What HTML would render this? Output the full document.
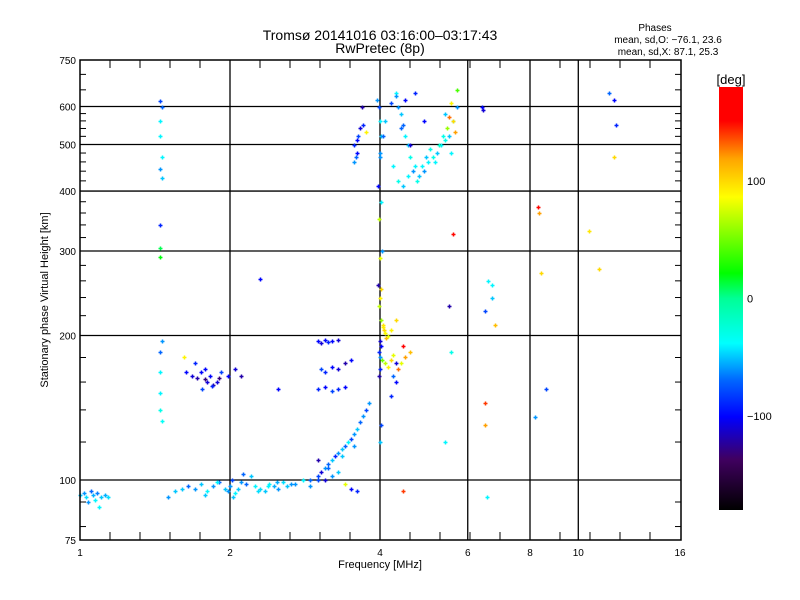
<!DOCTYPE html>
<html><head><meta charset="utf-8"><style>
body{margin:0;background:#fff}
svg{display:block;font-family:"Liberation Sans",sans-serif}
</style></head><body>
<svg id="chart" width="800" height="600" xmlns="http://www.w3.org/2000/svg">
<defs>
<linearGradient id="cbar" x1="0" y1="1" x2="0" y2="0">
<stop offset="0" stop-color="#000000"/><stop offset="0.12" stop-color="#400060"/><stop offset="0.22" stop-color="#0000ff"/>
<stop offset="0.305" stop-color="#0064ff"/><stop offset="0.394" stop-color="#00ffff"/><stop offset="0.5" stop-color="#00ff96"/>
<stop offset="0.56" stop-color="#00ff00"/><stop offset="0.74" stop-color="#ffff00"/><stop offset="0.83" stop-color="#ffa500"/>
<stop offset="0.92" stop-color="#ff0000"/><stop offset="1" stop-color="#ff0000"/>
</linearGradient>
</defs>
<text x="380" y="40" font-size="14" text-anchor="middle">Tromsø 20141016 03:16:00–03:17:43</text>
<text x="380" y="53" font-size="14" text-anchor="middle">RwPretec (8p)</text>
<g font-size="10" text-anchor="middle">
<text x="655" y="31">Phases</text>
<text x="668" y="43">mean, sd,O: −76.1, 23.6</text>
<text x="668" y="55">mean, sd,X:  87.1, 25.3</text>
</g>
<g id="grid"></g>
<g id="ticks"></g>
<g id="marks"></g>
<rect x="80" y="60" width="601" height="480" fill="none" stroke="#000" stroke-width="1.5"/>
<text x="380" y="568" font-size="11" text-anchor="middle">Frequency [MHz]</text>
<text x="48" y="300" font-size="11" text-anchor="middle" transform="rotate(-90 48 300)">Stationary phase Virtual Height [km]</text>
<rect x="719" y="87" width="24" height="423" fill="url(#cbar)"/>
<text x="731" y="84" font-size="13" text-anchor="middle">[deg]</text>
<g id="cticks" font-size="11"></g>
</svg>
<script>
const xTicks=[1,2,4,6,8,10,16];
const yTicks=[75,100,200,300,400,500,600,750];
const yGrid=[100,200,300,400,500,600];
const xGrid=[2,4,6,8,10];
const cTicks=[100,0,-100];
// echo data: frequency (MHz), virtual height (km), phase (deg)
const freq=[
1.0,1.02,1.03,1.05,1.06,1.07,1.08,1.1,1.12,1.14,1.04,1.09,
1.45,1.46,1.45,1.45,1.46,1.45,1.46,1.45,1.45,1.45,1.46,1.45,1.45,1.45,1.45,1.46,
1.63,1.68,1.72,1.75,1.78,1.8,1.82,1.85,1.88,1.9,1.7,1.78,1.92,1.98,2.05,2.1,1.76,1.84,1.62,
1.5,1.55,1.6,1.65,1.7,1.75,1.8,1.85,1.9,1.95,2.0,2.02,2.05,2.08,2.1,2.15,2.2,2.25,2.3,2.35,2.4,2.45,2.5,2.55,2.6,2.7,2.8,2.9,3.0,1.78,1.88,1.98,2.03,2.12,2.28,2.38,2.48,2.65,
3.0,3.05,3.1,3.15,3.2,3.3,3.05,3.1,3.2,3.3,3.4,3.5,3.0,3.1,3.2,3.3,3.4,2.3,2.5,
2.9,3.0,3.05,3.1,3.15,3.2,3.25,3.3,3.35,3.4,3.45,3.5,3.55,3.6,3.65,3.7,3.75,3.8,3.1,3.2,3.3,3.4,3.5,3.6,3.0,3.15,3.35,3.55,
3.55,3.6,3.62,3.65,3.58,3.7,3.75,3.6,3.55,3.68,
3.95,3.98,4.0,4.02,4.0,3.97,4.01,3.99,4.03,4.0,3.96,4.02,4.0,3.98,4.01,4.05,4.08,4.1,4.12,4.06,4.15,4.0,4.02,3.98,4.0,4.04,4.1,4.15,4.2,4.25,4.3,4.0,3.98,4.02,4.0,
4.2,4.35,4.45,4.3,4.25,4.5,4.4,4.3,4.2,4.6,4.45,
4.0,4.05,4.1,4.2,4.3,4.35,4.4,4.45,4.5,4.55,4.6,4.7,4.8,4.9,5.0,5.1,5.2,5.3,5.4,5.5,5.6,5.7,4.25,4.35,4.45,4.55,4.65,4.75,4.85,4.95,5.05,5.15,5.25,5.35,5.45,5.55,5.65,4.3,4.5,4.7,4.4,4.6,5.5,5.6,5.55,5.7,5.4,4.9,
6.4,6.45,6.6,6.7,6.8,6.5,6.5,6.55,8.3,8.35,8.4,8.2,8.6,10.5,11.0,11.5,11.8,11.9,11.8,5.5,6.5,6.7,5.6,5.55,5.4
];
const height=[
93,94,92,95,93,91,94,92,93,92,90,88,
615,600,560,520,470,445,425,340,305,292,195,185,168,152,140,133,
168,165,163,168,162,160,165,158,160,163,175,170,168,165,170,165,155,157,180,
92,95,96,97,96,98,95,97,99,96,97,100,94,96,99,98,102,97,96,95,98,97,96,99,97,98,100,97,100,93,99,95,92,103,95,97,99,98,
195,193,196,194,195,196,170,168,172,170,175,178,155,156,153,155,156,262,155,
100,102,104,106,108,110,112,114,116,118,120,122,125,128,132,136,140,145,100,102,104,98,96,95,110,106,112,118,
500,480,520,540,470,550,530,510,460,600,
620,600,560,520,470,410,380,350,300,290,255,250,240,230,215,208,205,202,198,210,200,195,190,185,180,178,175,172,178,182,175,170,165,130,120,
205,170,190,215,165,180,175,160,150,185,95,
480,520,560,610,640,600,580,550,520,500,470,450,430,440,460,470,480,500,510,520,560,600,450,420,410,430,440,420,450,470,490,460,500,520,540,480,530,630,620,640,540,500,570,560,610,650,580,560,
600,590,260,240,210,145,130,92,370,360,270,135,155,330,275,640,620,550,470,230,225,255,325,185,120
];
const phase=[
-50,-60,-45,-70,-55,-40,-65,-50,-55,-45,-60,-40,
-80,-70,-40,-40,-40,-60,-50,-90,10,20,-60,-70,-40,-40,-30,-35,
-100,-110,-120,-100,-130,-110,-100,-120,-110,-130,-90,-100,-80,-100,-110,-120,-80,-90,90,
-60,-50,-50,-70,-60,-50,-40,-60,-70,-50,-60,-80,-40,-50,-60,-70,-50,-40,-45,-50,-40,-55,-60,-45,-50,-60,-40,-60,-80,-50,-40,-60,-50,-70,-45,-40,-55,-60,
-100,-110,-100,-90,-100,-110,-80,-90,-100,-110,-120,-100,-90,-100,-80,-90,-100,-100,-100,
-70,-80,-110,-60,-70,-50,-90,-60,-50,-70,-40,-80,-60,-50,-70,-60,-80,-60,-110,-60,-50,80,-100,-90,-120,-70,-50,-60,
-90,-100,-80,-110,-70,-90,90,-100,-60,-120,
-60,-80,-40,-50,-60,-100,-40,70,-60,80,-120,100,90,70,60,90,100,85,110,95,80,-110,-100,-90,-60,50,70,90,100,80,-110,-90,-120,-80,-50,
90,130,160,100,-70,120,80,-100,-90,110,140,
-60,-70,-50,-80,-40,-60,-50,-70,-40,-50,-30,-40,-50,-60,-40,-30,-50,-40,-30,-50,-40,-60,-40,-30,-50,-40,-60,-30,-40,-50,-30,-40,-20,-30,60,-40,120,-60,-100,-90,-70,-110,130,100,90,40,-50,-100,
-100,-110,-40,-50,110,140,120,-40,150,120,100,-60,-80,95,100,-70,-100,-90,100,-120,-80,-40,150,-30,-40
];
const NS='http://www.w3.org/2000/svg';
const X=f=>80+150*Math.log2(f);
const Y=h=>540-480*Math.log10(h/75);
const C=p=>423-423*(p+180)/360+87;
const stops=[[0,0,0,0],[0.12,64,0,96],[0.22,0,0,255],[0.305,0,100,255],[0.394,0,255,255],[0.5,0,255,150],[0.56,0,255,0],[0.74,255,255,0],[0.83,255,165,0],[0.92,255,0,0],[1,255,0,0]];
function col(p){const t=Math.max(0,Math.min(1,(p+180)/360));for(let i=1;i<stops.length;i++){if(t<=stops[i][0]){const a=stops[i-1],b=stops[i],u=(t-a[0])/(b[0]-a[0]);return 'rgb('+[1,2,3].map(k=>Math.round(a[k]+(b[k]-a[k])*u)).join(',')+')';}}return 'rgb(255,0,0)';}
function mk(tag,attrs,parent){const e=document.createElementNS(NS,tag);for(const k in attrs)e.setAttribute(k,attrs[k]);parent.appendChild(e);return e;}
const grid=document.getElementById('grid'),ticks=document.getElementById('ticks'),marks=document.getElementById('marks'),ct=document.getElementById('cticks');
xGrid.forEach(f=>{const l=mk('line',{x1:X(f),x2:X(f),y1:60,y2:540,stroke:'#000','stroke-width':1.3},grid);

});
yGrid.forEach(h=>{const l=mk('line',{x1:80,x2:681,y1:Y(h),y2:Y(h),stroke:'#000','stroke-width':1.3},grid);

});
for(let i=1;i<20;i++){const x=80+30*i;if(x>=681)break;[[540,532],[60,68]].forEach(([a,b])=>mk('line',{x1:x,x2:x,y1:a,y2:b,stroke:'#000'},ticks));}
const ymin=[80,90,120,140,160,180,220,240,260,280,320,340,360,380,420,440,460,480,520,540,560,580,650,700];
ymin.forEach(h=>{[[80,86],[681,675]].forEach(([a,b])=>mk('line',{x1:a,x2:b,y1:Y(h),y2:Y(h),stroke:'#000'},ticks));});
xTicks.forEach(f=>{const t=mk('text',{x:X(f),y:556,'font-size':10,'text-anchor':'middle'},ticks);t.textContent=f;

});
yTicks.forEach(h=>{const t=mk('text',{x:76,y:Y(h)+4,'font-size':10,'text-anchor':'end'},ticks);t.textContent=h;

});
cTicks.forEach(v=>{const y=C(v);const t=mk('text',{x:747,y:y+4},ct);t.textContent=v===-100?'−100':v;

});
for(let i=0;i<freq.length;i++){const x=Math.round(X(freq[i]))+0.5,y=Math.round(Y(height[i]))+0.5;const c=col(phase[i]);
const p=mk('path',{d:`M${x-2},${y}H${x+2}M${x},${y-2}V${y+2}`,stroke:c,'stroke-width':1.5,fill:'none'},marks);

}
</script>
</body></html>
